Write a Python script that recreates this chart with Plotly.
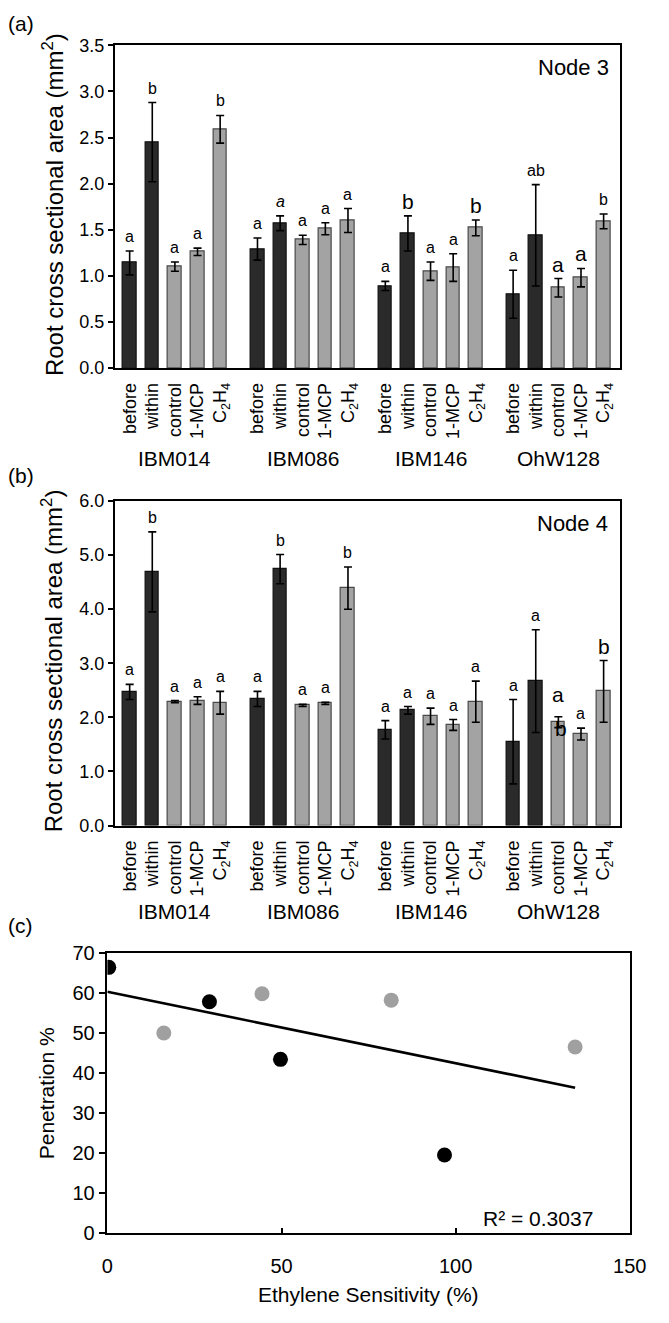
import numpy as np
import plotly.graph_objects as go

# ---------------- data ----------------
groups = ["IBM014", "IBM086", "IBM146", "OhW128"]
treatments = ["before", "within", "control", "1-MCP", "C<sub>2</sub>H<sub>4</sub>"]

node3_mean = [1.14, 2.45, 1.10, 1.26, 2.59,
              1.29, 1.57, 1.39, 1.51, 1.60,
              0.89, 1.46, 1.05, 1.09, 1.52,
              0.80, 1.44, 0.87, 0.98, 1.59]
node3_err = [0.13, 0.43, 0.05, 0.04, 0.15,
             0.12, 0.08, 0.05, 0.065, 0.13,
             0.05, 0.19, 0.10, 0.15, 0.085,
             0.26, 0.55, 0.10, 0.10, 0.08]
node3_letters = ["a", "b", "a", "a", "b",
                 "a", "<i>a</i>", "a", "a", "a",
                 "a", "b", "a", "a", "b",
                 "a", "ab", "a", "a", "b"]

node4_mean = [2.47, 4.69, 2.29, 2.31, 2.27,
              2.34, 4.74, 2.22, 2.26, 4.39,
              1.77, 2.13, 2.02, 1.86, 2.29,
              1.55, 2.67, 1.91, 1.69, 2.48]
node4_err = [0.14, 0.74, 0.02, 0.07, 0.21,
             0.14, 0.27, 0.02, 0.02, 0.39,
             0.17, 0.07, 0.15, 0.10, 0.38,
             0.78, 0.95, 0.10, 0.11, 0.57]
node4_letters = ["a", "b", "a", "a", "a",
                 "a", "b", "a", "a", "b",
                 "a", "a", "a", "a", "a",
                 "a", "a", "a", "a", "b"]
node4_extra_letter = ("b", 17, 1.80)   # (letter, bar index, value)

sens_black = [0.4, 29.3, 49.7, 96.8]
pen_black = [66.5, 57.9, 43.5, 19.6]
sens_gray = [16.2, 44.4, 81.5, 134.3]
pen_gray = [50.1, 59.9, 58.3, 46.6]
r2_label = "R² = 0.3037"

# ---------------- styles ----------------
FONT = "Liberation Sans, Arial, sans-serif"
DARK, DARK_EDGE = "#2a2a2a", "#111111"
LIGHT, LIGHT_EDGE = "#a3a3a3", "#4a4a4a"
shade = ["dark", "dark", "light", "light", "light"]
big3 = [0, 0, 0, 0, 0, 0, 0, 0, 0, 0, 0, 1, 0, 0, 1, 0, 0, 1, 1, 0]
big4 = [0, 0, 0, 0, 0, 0, 0, 0, 0, 0, 0, 0, 0, 0, 0, 0, 0, 1, 0, 1]
GROUP_STEP = 5.65

W, H = 669, 1323
def px(x): return x / W
def py(y): return 1 - y / H

xpos, xtext, colors, edges = [], [], [], []
for g, grp in enumerate(groups):
    for t, tr in enumerate(treatments):
        xpos.append(g * GROUP_STEP + t)
        xtext.append(tr)
        colors.append(DARK if shade[t] == "dark" else LIGHT)
        edges.append(DARK_EDGE if shade[t] == "dark" else LIGHT_EDGE)

fig = go.Figure()
annotations = []

def bar_panel(mean, err, letters, big, xa, ya):
    fig.add_trace(go.Bar(
        x=xpos, y=mean, xaxis=xa, yaxis=ya, width=0.6,
        marker=dict(color=colors, line=dict(color=edges, width=1.2)),
        error_y=dict(type="data", array=err, color="black", thickness=1.6, width=4),
        showlegend=False))
    for i, (m, e, L) in enumerate(zip(mean, err, letters)):
        annotations.append(dict(
            x=xpos[i], y=m + e, xref=xa, yref=ya, text=L, showarrow=False,
            yanchor="bottom", xanchor="center",
            yshift=(1 if big[i] else 4),
            font=dict(family=FONT, size=(21 if big[i] else 16), color="black")))

bar_panel(node3_mean, node3_err, node3_letters, big3, "x", "y")
bar_panel(node4_mean, node4_err, node4_letters, big4, "x2", "y2")
# letter drawn over the OhW128 control bar in node 4
L, idx, val = node4_extra_letter
annotations.append(dict(x=xpos[idx], y=val, xref="x2", yref="y2", text=L,
                        showarrow=False, yanchor="middle", xshift=3,
                        font=dict(family=FONT, size=21, color="black")))
for a in annotations:
    if a.get("yref") == "y2" and a["x"] == xpos[idx] and a["text"] == "a":
        a["yshift"] = 9

# scatter panel
fig.add_trace(go.Scatter(x=sens_gray, y=pen_gray, mode="markers", xaxis="x3", yaxis="y3",
                         marker=dict(color="#a0a0a0", size=15), showlegend=False))
fig.add_trace(go.Scatter(x=sens_black, y=pen_black, mode="markers", xaxis="x3", yaxis="y3",
                         marker=dict(color="black", size=15), showlegend=False))
all_x = np.array(sens_black + sens_gray)
all_y = np.array(pen_black + pen_gray)
slope, intercept = np.polyfit(all_x, all_y, 1)
xl = np.array([0, all_x.max()])
fig.add_trace(go.Scatter(x=xl, y=intercept + slope * xl, mode="lines", xaxis="x3", yaxis="y3",
                         line=dict(color="black", width=2.6), showlegend=False))

# ---------------- axes ----------------
XR = [-0.66, 3 * GROUP_STEP + 4 + 0.73]
common_x = dict(range=XR, tickmode="array", tickvals=xpos, ticktext=xtext, tickangle=-90,
                showline=True, mirror=True, linecolor="black", linewidth=1.5,
                ticks="", showgrid=False, zeroline=False, ticklabelstandoff=6,
                tickfont=dict(family=FONT, size=18, color="black"))
common_y = dict(showline=True, mirror=True, linecolor="black", linewidth=1.5,
                ticks="outside", ticklen=5, tickwidth=1.5, tickcolor="black",
                showgrid=False, zeroline=False,
                tickfont=dict(family=FONT, size=18, color="black"))

fig.update_layout(
    width=W, height=H, margin=dict(l=0, r=0, t=0, b=0),
    paper_bgcolor="white", plot_bgcolor="white", bargap=0,
    xaxis=dict(domain=[px(112.6), px(636)], anchor="y", **common_x),
    yaxis=dict(domain=[py(363), py(35)], anchor="x", range=[0, 3.5], dtick=0.5,
               tickformat=".1f", **common_y),
    xaxis2=dict(domain=[px(112.6), px(636)], anchor="y2", **common_x),
    yaxis2=dict(domain=[py(828.3), py(498.3)], anchor="x2", range=[0, 6], dtick=1,
                tickformat=".1f", **common_y),
    xaxis3=dict(domain=[px(105), px(646)], anchor="y3", range=[0, 150], dtick=50,
                showline=True, mirror=True, linecolor="black", linewidth=1.5,
                ticks="inside", ticklen=6, tickwidth=1.5, tickcolor="black",
                showgrid=False, zeroline=False, ticklabelstandoff=14,
                tickfont=dict(family=FONT, size=20, color="black")),
    yaxis3=dict(domain=[py(1243), py(958.3)], anchor="x3", range=[0, 70], dtick=10,
                showline=True, mirror=True, linecolor="black", linewidth=1.5,
                ticks="outside", ticklen=7, tickwidth=1.5, tickcolor="black",
                showgrid=False, zeroline=False,
                tickfont=dict(family=FONT, size=20, color="black")),
)

def text(x, y, s, size, xanchor="center", yanchor="middle", angle=0):
    annotations.append(dict(x=px(x), y=py(y), xref="paper", yref="paper", text=s,
                            showarrow=False, xanchor=xanchor, yanchor=yanchor,
                            textangle=angle, font=dict(family=FONT, size=size, color="black")))

text(0, 13, "(a)", 21, xanchor="left")
text(0, 472, "(b)", 21, xanchor="left")
text(0, 930, "(c)", 21, xanchor="left")
text(627, 57, "Node 3", 22, xanchor="right")
text(626, 521, "Node 4", 22, xanchor="right")
ytitle = "Root cross sectional area (mm<sup>2</sup>)"
text(48, 197, ytitle, 24, angle=-90)
text(48, 661, ytitle, 24, angle=-90)
text(42, 1101, "Penetration %", 21, angle=-90)
text(375, 1305, "Ethylene Sensitivity (%)", 21)
for g, grp in enumerate(groups):
    cx = g * GROUP_STEP + 2
    for xr, ypx in (("x", 455), ("x2", 915.5)):
        annotations.append(dict(x=cx, y=py(ypx), xref=xr, yref="paper", text=grp,
                                showarrow=False, xanchor="center", yanchor="middle",
                                font=dict(family=FONT, size=21, color="black")))
annotations.append(dict(x=123.5, y=3.8, xref="x3", yref="y3", text=r2_label, showarrow=False,
                        xanchor="center", yanchor="middle",
                        font=dict(family=FONT, size=21, color="black")))

fig.update_layout(annotations=annotations)
fig.write_html("out.html", config={"displayModeBar": False},
               post_script="document.body.style.margin='0';document.body.style.overflow='hidden';")
